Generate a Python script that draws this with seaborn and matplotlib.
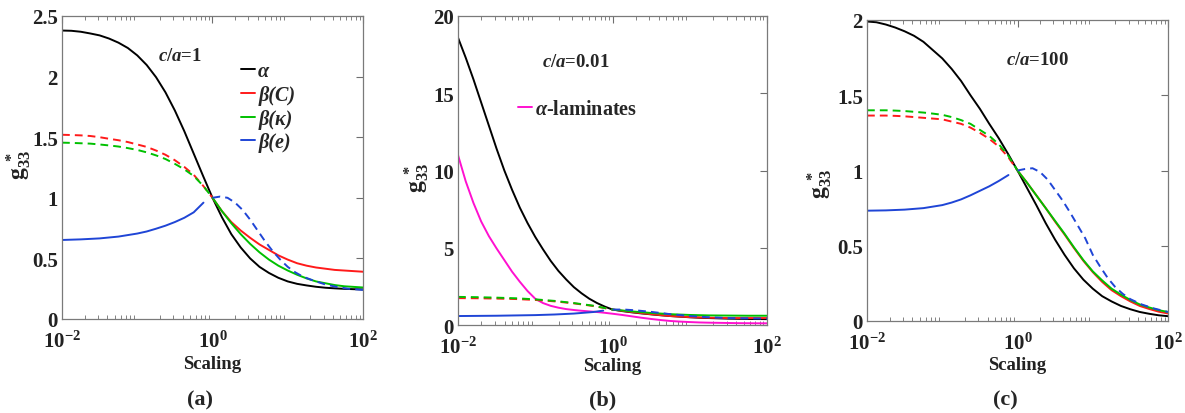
import numpy as np
import pandas as pd
import matplotlib
matplotlib.use("Agg")
import matplotlib.pyplot as plt
import matplotlib.ticker as mticker
from matplotlib.lines import Line2D
from matplotlib.font_manager import FontProperties
import seaborn as sns

# ---------------- data (x given as log10 of "Scaling") ----------------
X_FINE_L = [-2, -1.875, -1.75, -1.625, -1.5, -1.375, -1.25, -1.125, -1, -0.875, -0.75,
            -0.625, -0.5, -0.375, -0.25, -0.125, 0]
X_FINE_R = [0, 0.125, 0.25, 0.375, 0.5, 0.625, 0.75, 0.875, 1, 1.125, 1.25, 1.375,
            1.5, 1.625, 1.75, 1.875, 2]
X_FINE = X_FINE_L + X_FINE_R[1:]

# panel (a)  c/a = 1
a_alpha = [2.38, 2.378, 2.37, 2.356, 2.34, 2.314, 2.28, 2.236, 2.175, 2.096, 1.995, 1.87, 1.72,
           1.55, 1.365, 1.18, 1.00, 0.84, 0.70, 0.59, 0.50, 0.43, 0.38, 0.34, 0.31, 0.29,
           0.277, 0.266, 0.258, 0.253, 0.249, 0.246, 0.244]
a_betaC_dash = [1.52, 1.518, 1.515, 1.51, 1.50, 1.487, 1.475, 1.46, 1.44, 1.42, 1.39, 1.355,
                1.31, 1.255, 1.19, 1.10, 1.00]
a_betaC_solid = [1.00, 0.89, 0.80, 0.73, 0.67, 0.615, 0.57, 0.525, 0.49, 0.46, 0.44, 0.425,
                 0.415, 0.405, 0.40, 0.395, 0.39]
a_betaK_dash = [1.455, 1.453, 1.45, 1.447, 1.44, 1.432, 1.423, 1.41, 1.395, 1.375, 1.35, 1.32,
                1.28, 1.235, 1.18, 1.10, 1.00]
a_betaK_solid = [1.00, 0.89, 0.79, 0.70, 0.62, 0.55, 0.49, 0.44, 0.40, 0.365, 0.335, 0.31,
                 0.295, 0.28, 0.27, 0.265, 0.26]
a_betaE_solid_x = [-2, -1.75, -1.5, -1.25, -1, -0.875, -0.75, -0.625, -0.5, -0.375, -0.25, -0.12]
a_betaE_solid = [0.652, 0.657, 0.665, 0.68, 0.705, 0.722, 0.745, 0.77, 0.80, 0.835, 0.88, 0.96]
a_betaE_dash_x = [0, 0.1, 0.2, 0.3, 0.4, 0.5, 0.6, 0.7, 0.8, 0.9, 1.0, 1.1, 1.2, 1.35, 1.5,
                  1.65, 1.8, 2]
a_betaE_dash = [1.0, 1.01, 1.0, 0.96, 0.90, 0.82, 0.73, 0.64, 0.56, 0.49, 0.43, 0.385, 0.35,
                0.315, 0.285, 0.265, 0.25, 0.24]

# panel (b)  c/a = 0.01
b_x = [-2, -1.9, -1.8, -1.7, -1.6, -1.5, -1.4, -1.3, -1.2, -1.1, -1.0, -0.9, -0.8, -0.7, -0.6,
       -0.5, -0.4, -0.3, -0.2, -0.1, 0, 0.125, 0.25, 0.375, 0.5, 0.625, 0.75, 0.875, 1, 1.125,
       1.25, 1.375, 1.5, 1.625, 1.75, 1.875, 2]
b_alpha = [18.6, 17.3, 15.9, 14.4, 12.9, 11.4, 10.0, 8.75, 7.6, 6.6, 5.7, 4.9, 4.15, 3.5, 2.95,
           2.45, 2.05, 1.7, 1.42, 1.19, 1.0, 0.9, 0.82, 0.75, 0.69, 0.63, 0.58, 0.54, 0.5,
           0.47, 0.45, 0.43, 0.41, 0.40, 0.39, 0.385, 0.38]
b_lam = [11.0, 9.3, 7.9, 6.7, 5.75, 4.95, 4.2, 3.45, 2.8, 2.2, 1.7, 1.42, 1.24, 1.12, 1.03,
         0.97, 0.92, 0.88, 0.84, 0.79, 0.73, 0.65, 0.56, 0.47, 0.39, 0.32, 0.26, 0.22, 0.19,
         0.165, 0.15, 0.14, 0.13, 0.12, 0.115, 0.11, 0.11]
X_LEFT = [-2, -1.75, -1.5, -1.25, -1, -0.75, -0.5, -0.25, 0]
X_RIGHT = [0, 0.25, 0.5, 0.75, 1, 1.25, 1.5, 1.75, 2]
b_betaC_dash = [1.74, 1.73, 1.71, 1.68, 1.62, 1.53, 1.40, 1.23, 1.0]
b_betaC_solid = [1.0, 0.84, 0.70, 0.58, 0.51, 0.47, 0.45, 0.45, 0.45]
b_betaK_dash = [1.82, 1.80, 1.77, 1.73, 1.66, 1.56, 1.42, 1.25, 1.0]
b_betaK_solid = [1.0, 0.88, 0.78, 0.70, 0.65, 0.62, 0.61, 0.60, 0.60]
b_betaE_solid_x = [-2, -1.5, -1, -0.75, -0.5, -0.25, -0.12]
b_betaE_solid = [0.58, 0.60, 0.64, 0.68, 0.74, 0.84, 0.93]
b_betaE_dash_x = [0, 0.15, 0.3, 0.5, 0.75, 1, 1.25, 1.5, 1.75, 2]
b_betaE_dash = [1.0, 1.0, 0.95, 0.85, 0.70, 0.58, 0.50, 0.45, 0.43, 0.42]

# panel (c)  c/a = 100
c_alpha = [1.99, 1.985, 1.97, 1.95, 1.925, 1.895, 1.855, 1.80, 1.745, 1.675, 1.595, 1.50,
           1.41, 1.31, 1.215, 1.11, 1.0, 0.885, 0.77, 0.65, 0.54, 0.44, 0.35, 0.275, 0.215,
           0.165, 0.13, 0.10, 0.078, 0.06, 0.048, 0.038, 0.032]
c_betaC_dash = [1.365, 1.365, 1.365, 1.363, 1.36, 1.355, 1.35, 1.345, 1.34, 1.325, 1.31, 1.285,
                1.25, 1.21, 1.16, 1.09, 1.0]
c_betaC_solid = [1.0, 0.92, 0.835, 0.75, 0.66, 0.575, 0.485, 0.40, 0.325, 0.26, 0.205, 0.165,
                 0.13, 0.10, 0.08, 0.062, 0.05]
c_betaK_dash = [1.40, 1.40, 1.40, 1.398, 1.395, 1.39, 1.385, 1.378, 1.37, 1.355, 1.335, 1.31,
                1.27, 1.23, 1.175, 1.10, 1.0]
c_betaK_solid = [1.0, 0.92, 0.835, 0.75, 0.665, 0.58, 0.49, 0.405, 0.33, 0.27, 0.215, 0.175,
                 0.14, 0.11, 0.09, 0.072, 0.06]
c_betaE_solid_x = [-2, -1.75, -1.5, -1.25, -1, -0.875, -0.75, -0.625, -0.5, -0.375, -0.25, -0.12]
c_betaE_solid = [0.733, 0.735, 0.74, 0.75, 0.77, 0.787, 0.808, 0.835, 0.865, 0.895, 0.93, 0.97]
c_betaE_dash_x = [0, 0.1, 0.2, 0.3, 0.4, 0.5, 0.6, 0.7, 0.8, 0.9, 1.0, 1.1, 1.2, 1.3, 1.4, 1.5,
                  1.65, 1.8, 2]
c_betaE_dash = [1.0, 1.01, 1.015, 0.99, 0.94, 0.87, 0.80, 0.72, 0.635, 0.55, 0.44, 0.36, 0.285,
                0.225, 0.18, 0.145, 0.11, 0.085, 0.06]

legend_a = ["α", "β(C)", "β(κ)", "β(e)"]
legend_b = r"$\alpha$-laminates"
ratio_texts = ["=1", "=0.01", "=100"]
panel_tags = ["(a)", "(b)", "(c)"]
y_ticks_a = [0, 0.5, 1, 1.5, 2, 2.5]
y_ticks_b = [0, 5, 10, 15, 20]
y_ticks_c = [0, 0.5, 1, 1.5, 2]
y_ticklabels_a = ["0", "0.5", "1", "1.5", "2", "2.5"]
y_ticklabels_b = ["0", "5", "10", "15", "20"]
y_ticklabels_c = ["0", "0.5", "1", "1.5", "2"]
x_ticks = [1e-2, 1, 1e2]
x_ticklabels = [r"$\mathrm{10^{-2}}$", r"$\mathrm{10^{0}}$", r"$\mathrm{10^{2}}$"]

# ---------------- style ----------------
BLACK = "#000000"
RED = "#ff1a1a"
GREEN = "#00c000"
BLUE = "#1f45d6"
MAGENTA = "#ff10d0"
LW = 1.4
DASH = (4.0, 2.6)

sns.set_theme(style="white")
plt.rcParams["font.family"] = ["Liberation Serif", "DejaVu Serif"]
plt.rcParams["font.weight"] = "bold"
plt.rcParams["mathtext.fontset"] = "custom"
plt.rcParams["mathtext.rm"] = "Liberation Serif:bold"
plt.rcParams["mathtext.it"] = "Liberation Serif:italic:bold"
plt.rcParams["mathtext.bf"] = "Liberation Serif:bold"
plt.rcParams["axes.unicode_minus"] = True

fig = plt.figure(figsize=(11.85, 4.14), dpi=100)
W, H = 1185.0, 414.0


def add_axes(l, r, t, b):
    return fig.add_axes([l / W, 1 - b / H, (r - l) / W, (b - t) / H])


ax_a = add_axes(62, 363, 17, 320)
ax_b = add_axes(458, 767, 17, 326)
ax_c = add_axes(867, 1168, 21, 322)


def line(ax, xexp, y, color, dashed=False):
    df = pd.DataFrame({"x": np.power(10.0, np.array(xexp, dtype=float)), "y": y})
    sns.lineplot(data=df, x="x", y="y", ax=ax, color=color, linewidth=LW,
                 sort=False, estimator=None, legend=False)
    ln = ax.lines[-1]
    ln.set_solid_joinstyle("round")
    if dashed:
        ln.set_dashes(DASH)


def style_axis(ax, ymax, yticks, yticklabels):
    ax.set_xscale("log")
    ax.set_xlim(1e-2, 1e2)
    ax.set_ylim(0, ymax)
    ax.set_xticks(x_ticks)
    ax.set_xticklabels(x_ticklabels)
    ax.xaxis.set_minor_locator(mticker.LogLocator(base=10, subs=np.arange(2, 10), numticks=20))
    ax.xaxis.set_minor_formatter(mticker.NullFormatter())
    ax.set_yticks(yticks)
    ax.set_yticklabels(yticklabels)
    ax.tick_params(axis="both", which="major", direction="in", length=5, width=0.8,
                   top=True, right=True, labelsize=15, color="#6e6e6e", pad=3,
                   labelcolor="#222222")
    ax.tick_params(axis="x", which="major", pad=8)
    ax.tick_params(axis="x", which="minor", direction="in", length=2.8, width=0.6,
                   top=True, bottom=True, color="#6e6e6e")
    for s in ax.spines.values():
        s.set_color("#7a7a7a")
        s.set_linewidth(0.9)
    ax.set_xlabel("Scaling", fontsize=13.5, fontweight="bold", color="#222222")
    ax.set_ylabel(r"$\mathrm{g_{33}^{\;*}}$", fontsize=17, color="#222222")
    for lab in ax.get_yticklabels():
        lab.set_fontweight("bold")


# panel (a)
line(ax_a, X_FINE, a_alpha, BLACK)
line(ax_a, X_FINE_L, a_betaC_dash, RED, dashed=True)
line(ax_a, X_FINE_R, a_betaC_solid, RED)
line(ax_a, X_FINE_L, a_betaK_dash, GREEN, dashed=True)
line(ax_a, X_FINE_R, a_betaK_solid, GREEN)
line(ax_a, a_betaE_solid_x, a_betaE_solid, BLUE)
line(ax_a, a_betaE_dash_x, a_betaE_dash, BLUE, dashed=True)
style_axis(ax_a, 2.5, y_ticks_a, y_ticklabels_a)

# panel (b)
line(ax_b, b_x, b_alpha, BLACK)
line(ax_b, b_x, b_lam, MAGENTA)
line(ax_b, X_LEFT, b_betaC_dash, RED, dashed=True)
line(ax_b, X_RIGHT, b_betaC_solid, RED)
line(ax_b, X_LEFT, b_betaK_dash, GREEN, dashed=True)
line(ax_b, X_RIGHT, b_betaK_solid, GREEN)
line(ax_b, b_betaE_solid_x, b_betaE_solid, BLUE)
line(ax_b, b_betaE_dash_x, b_betaE_dash, BLUE, dashed=True)
style_axis(ax_b, 20, y_ticks_b, y_ticklabels_b)

# panel (c)
line(ax_c, X_FINE, c_alpha, BLACK)
line(ax_c, X_FINE_L, c_betaC_dash, RED, dashed=True)
line(ax_c, X_FINE_R, c_betaC_solid, RED)
line(ax_c, X_FINE_L, c_betaK_dash, GREEN, dashed=True)
line(ax_c, X_FINE_R, c_betaK_solid, GREEN)
line(ax_c, c_betaE_solid_x, c_betaE_solid, BLUE)
line(ax_c, c_betaE_dash_x, c_betaE_dash, BLUE, dashed=True)
style_axis(ax_c, 2, y_ticks_c, y_ticklabels_c)

# label positions
ax_a.xaxis.set_label_coords(0.5, -0.120)
ax_b.xaxis.set_label_coords(0.5, -0.105)
ax_c.xaxis.set_label_coords(0.5, -0.115)
ax_a.yaxis.set_label_coords(-0.098, 0.51)
ax_b.yaxis.set_label_coords(-0.088, 0.48)
ax_c.yaxis.set_label_coords(-0.108, 0.46)

# c/a annotations
for ax, txt, (xa, ya) in zip((ax_a, ax_b, ax_c), ratio_texts,
                             ((0.392, 0.868), (0.382, 0.854), (0.565, 0.870))):
    ax.text(xa, ya, r"$c/a$" + txt, transform=ax.transAxes, ha="center", va="center",
            fontsize=13.5, fontweight="bold")

# legends
handles_a = [Line2D([], [], color=c, lw=LW) for c in (BLACK, RED, GREEN, BLUE)]
ax_a.legend(handles_a, legend_a, loc="upper left", bbox_to_anchor=(0.595, 0.85),
            frameon=False, handlelength=0.7, handletextpad=0.15, borderpad=0,
            borderaxespad=0, labelspacing=0.18,
            prop=FontProperties(family="Liberation Serif", style="italic", weight="bold", size=14.5))
handles_b = [Line2D([], [], color=MAGENTA, lw=LW)]
ax_b.legend(handles_b, [legend_b], loc="upper left", bbox_to_anchor=(0.195, 0.73),
            frameon=False, handlelength=0.7, handletextpad=0.15, borderpad=0,
            borderaxespad=0,
            prop=FontProperties(family="Liberation Serif", weight="bold", size=14.5))

# panel tags
for tag, xc in zip(panel_tags, (200, 603, 1005)):
    fig.text(xc / W, 1 - 400 / H, tag, ha="center", va="center", fontsize=16, fontweight="bold")

fig.savefig("out.png", dpi=100)
